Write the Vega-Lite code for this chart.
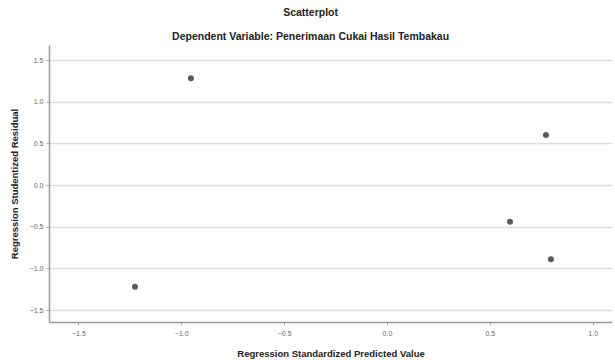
{
  "$schema": "https://vega.github.io/schema/vega-lite/v6.json",
  "width": 563,
  "height": 277,
  "autosize": {"type": "none"},
  "padding": {"left": 49, "top": 45, "right": 3, "bottom": 38},
  "background": "white",
  "title": {
    "text": "Scatterplot",
    "subtitle": "Dependent Variable: Penerimaan Cukai Hasil Tembakau",
    "anchor": "middle",
    "frame": "bounds",
    "font": "Liberation Sans",
    "fontSize": 10.5,
    "fontWeight": "bold",
    "color": "#222222",
    "subtitleFont": "Liberation Sans",
    "subtitleFontSize": 10.5,
    "subtitleFontWeight": "bold",
    "subtitleColor": "#222222",
    "subtitlePadding": 13,
    "offset": 3
  },
  "data": {
    "values": [
      {"predicted": -1.225, "residual": -1.22},
      {"predicted": -0.953, "residual": 1.28},
      {"predicted": 0.598, "residual": -0.44},
      {"predicted": 0.773, "residual": 0.6},
      {"predicted": 0.797, "residual": -0.89}
    ]
  },
  "mark": {"type": "circle", "size": 36, "color": "#5a5a5a", "opacity": 1},
  "encoding": {
    "x": {
      "field": "predicted",
      "type": "quantitative",
      "title": "Regression Standardized Predicted Value",
      "scale": {"domain": [-1.643, 1.094], "nice": false, "zero": false},
      "axis": {
        "values": [-1.5, -1.0, -0.5, 0.0, 0.5, 1.0],
        "format": ".1f",
        "grid": false,
        "domainColor": "#999999",
        "domainWidth": 1.5,
        "tickColor": "#aaaaaa",
        "tickSize": 3,
        "labelFont": "Liberation Sans",
        "labelFontSize": 7,
        "labelColor": "#666666",
        "labelPadding": 4,
        "titleFont": "Liberation Sans",
        "titleFontSize": 9.5,
        "titleFontWeight": "bold",
        "titleColor": "#222222",
        "titlePadding": 12
      }
    },
    "y": {
      "field": "residual",
      "type": "quantitative",
      "title": "Regression Studentized Residual",
      "scale": {"domain": [-1.643, 1.68], "nice": false, "zero": false},
      "axis": {
        "values": [-1.5, -1.0, -0.5, 0.0, 0.5, 1.0, 1.5],
        "format": ".1f",
        "grid": true,
        "gridColor": "#dcdcdc",
        "gridWidth": 1.5,
        "domainColor": "#999999",
        "domainWidth": 1.5,
        "tickColor": "#aaaaaa",
        "tickSize": 3,
        "labelFont": "Liberation Sans",
        "labelFontSize": 7,
        "labelColor": "#666666",
        "labelPadding": 3,
        "titleFont": "Liberation Sans",
        "titleFontSize": 9.5,
        "titleFontWeight": "bold",
        "titleColor": "#222222",
        "titlePadding": 10
      }
    }
  },
  "config": {"view": {"stroke": null}}
}
